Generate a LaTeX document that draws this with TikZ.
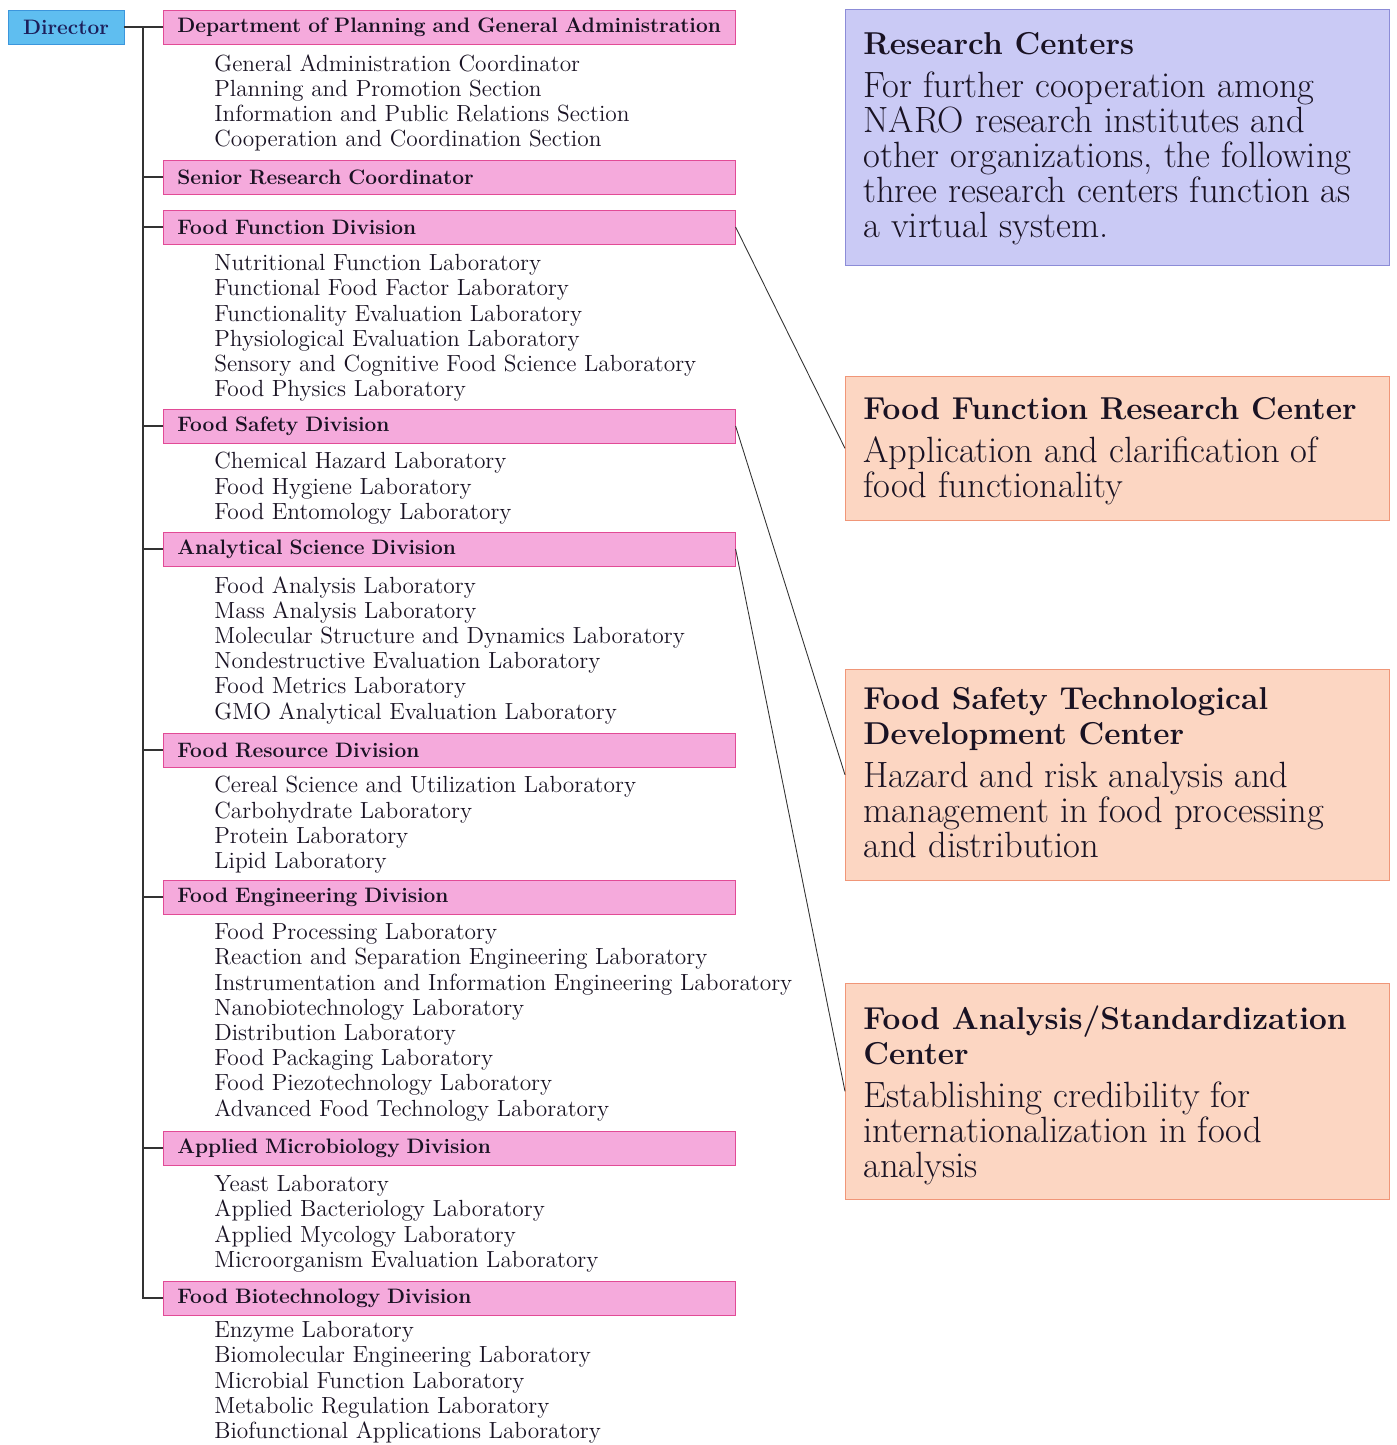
\documentclass[tikz,border=0pt]{standalone}
\usepackage{xcolor}

\definecolor{ink}{RGB}{25,18,35}
\definecolor{dirink}{RGB}{28,30,90}
\definecolor{dirfill}{RGB}{95,190,240}
\definecolor{dirdraw}{RGB}{60,150,220}
\definecolor{divfill}{RGB}{245,170,220}
\definecolor{divdraw}{RGB}{225,75,150}
\definecolor{rcfill}{RGB}{202,202,245}
\definecolor{rcdraw}{RGB}{140,140,215}
\definecolor{ctrfill}{RGB}{252,214,194}
\definecolor{ctrdraw}{RGB}{240,150,120}

\newcommand*{\trunkx}{143}
\newcommand*{\divx}{163}
\newcommand*{\labx}{214}
\newcommand*{\ctrx}{845}
\newcommand*{\labfont}{\fontsize{13.3}{14.35}\selectfont}
\newcommand*{\divfont}{\fontsize{11.9}{14.35}\selectfont\bfseries}
\newcommand*{\bigfont}{\fontsize{20.8}{19.92}\selectfont}
\newcommand*{\headfont}{\fontsize{18}{19.92}\selectfont\bfseries}

\begin{document}
\begin{tikzpicture}
[
	x=0.02cm, y=-0.02cm,
	tree/.style={draw=black!80,line width=0.8pt},
	link/.style={draw=black!80,line width=0.5pt},
	dirbox/.style={draw=dirdraw,fill=dirfill,minimum width=2.32cm,minimum height=0.68cm,inner sep=0pt,font=\divfont,text=dirink},
	divbox/.style={draw=divdraw,fill=divfill,anchor=west,minimum width=11.44cm,minimum height=0.68cm,text width=10.88cm,inner xsep=0.28cm,inner ysep=0pt,align=left,font=\divfont,text=ink},
	lablist/.style={anchor=north west,inner sep=0pt,align=left,font=\labfont,text=ink},
	ctrbox/.style={draw=ctrdraw,fill=ctrfill,anchor=north west,minimum width=10.88cm,inner sep=0pt},
	ctrtext/.style={anchor=north west,inner sep=0pt,align=left,font=\bigfont,text=ink}
]

	% page
	\useasboundingbox (0,0) rectangle (1397,1445);

	% director
	\node[dirbox] (dir) at (66,27) {Director};

	% divisions
	\node[divbox] (plan) at (\divx,27) {Department of Planning and General Administration};
	\node[divbox] (senior) at (\divx,177) {Senior Research Coordinator};
	\node[divbox] (func) at (\divx,227) {Food Function Division};
	\node[divbox] (safety) at (\divx,426) {Food Safety Division};
	\node[divbox] (anal) at (\divx,549) {Analytical Science Division};
	\node[divbox] (res) at (\divx,750) {Food Resource Division};
	\node[divbox] (eng) at (\divx,897) {Food Engineering Division};
	\node[divbox] (micro) at (\divx,1148) {Applied Microbiology Division};
	\node[divbox] (bio) at (\divx,1298) {Food Biotechnology Division};

	% laboratories and sections
	\node[lablist] (planlabs) at (\labx,54) {General Administration Coordinator\\Planning and Promotion Section\\Information and Public Relations Section\\Cooperation and Coordination Section};
	\node[lablist] (funclabs) at (\labx,254) {Nutritional Function Laboratory\\Functional Food Factor Laboratory\\Functionality Evaluation Laboratory\\Physiological Evaluation Laboratory\\Sensory and Cognitive Food Science Laboratory\\Food Physics Laboratory};
	\node[lablist] (safetylabs) at (\labx,452) {Chemical Hazard Laboratory\\Food Hygiene Laboratory\\Food Entomology Laboratory};
	\node[lablist] (anallabs) at (\labx,576) {Food Analysis Laboratory\\Mass Analysis Laboratory\\Molecular Structure and Dynamics Laboratory\\Nondestructive Evaluation Laboratory\\Food Metrics Laboratory\\GMO Analytical Evaluation Laboratory};
	\node[lablist] (reslabs) at (\labx,776) {Cereal Science and Utilization Laboratory\\Carbohydrate Laboratory\\Protein Laboratory\\Lipid Laboratory};
	\node[lablist] (englabs) at (\labx,923) {Food Processing Laboratory\\Reaction and Separation Engineering Laboratory\\Instrumentation and Information Engineering Laboratory\\Nanobiotechnology Laboratory\\Distribution Laboratory\\Food Packaging Laboratory\\Food Piezotechnology Laboratory\\Advanced Food Technology Laboratory};
	\node[lablist] (microlabs) at (\labx,1175) {Yeast Laboratory\\Applied Bacteriology Laboratory\\Applied Mycology Laboratory\\Microorganism Evaluation Laboratory};
	\node[lablist] (biolabs) at (\labx,1321) {Enzyme Laboratory\\Biomolecular Engineering Laboratory\\Microbial Function Laboratory\\Metabolic Regulation Laboratory\\Biofunctional Applications Laboratory};

	% tree
	\draw[tree] (dir.east) -- (plan.west);
	\draw[tree] (\trunkx,0 |- plan.west) -- (\trunkx,0 |- bio.west) -- (bio.west);
	\foreach \unit in {senior,func,safety,anal,res,eng,micro} {
		\draw[tree] (\trunkx,0 |- \unit.west) -- (\unit.west);
	}

	% research centers
	\node[ctrbox,draw=rcdraw,fill=rcfill,minimum height=5.12cm] (rc) at (\ctrx,9) {};
	\node[ctrtext] (rctext) at (863,32) {{\headfont Research Centers}\\[0.16cm]For further cooperation among\\NARO research institutes and\\other organizations, the following\\three research centers function as\\a virtual system.};
	%
	\node[ctrbox,minimum height=2.88cm] (ffrc) at (\ctrx,376) {};
	\node[ctrtext] (ffrctext) at (863,397) {{\headfont Food Function Research Center}\\[0.16cm]Application and clarification of\\food functionality};
	%
	\node[ctrbox,minimum height=4.22cm] (fstdc) at (\ctrx,669) {};
	\node[ctrtext] (fstdctext) at (863,687) {{\headfont Food Safety Technological}\\{\headfont Development Center}\\[0.16cm]Hazard and risk analysis and\\management in food processing\\and distribution};
	%
	\node[ctrbox,minimum height=4.32cm] (fasc) at (\ctrx,983) {};
	\node[ctrtext] (fasctext) at (863,1005) {{\headfont Food Analysis/Standardization}\\{\headfont Center}\\[0.16cm]Establishing credibility for\\internationalization in food\\analysis};

	% links to centers
	\draw[link] (func.east) -- (ffrc.west);
	\draw[link] (safety.east) -- (fstdc.west);
	\draw[link] (anal.east) -- (fasc.west);

\end{tikzpicture}
\end{document}
